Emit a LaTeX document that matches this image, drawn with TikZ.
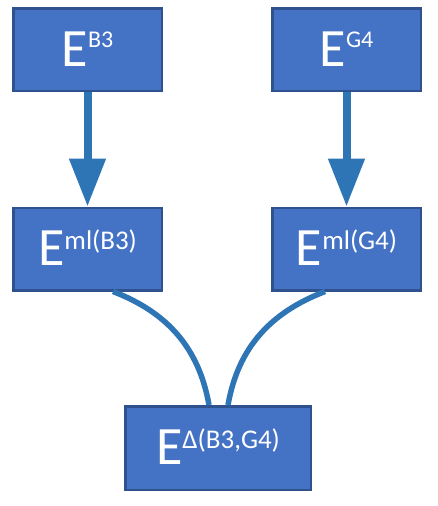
\documentclass[tikz,border=0pt]{standalone}
\usepackage{fontspec}
\setmainfont{Carlito}
\usepackage{xcolor}
\usepackage{tikz}
\usetikzlibrary{arrows.meta,calc}

\definecolor{boxfill}{HTML}{4472C4}
\definecolor{boxedge}{HTML}{2F528F}
\definecolor{flowblue}{HTML}{2E75B6}
\newcommand{\Eup}[3]{E\raisebox{#2}{\fontsize{#1}{#1}\selectfont #3}}

\begin{document}
\begin{tikzpicture}[
  x=1pt, y=1pt,
  blk/.style={draw=boxedge, fill=boxfill, line width=2.5pt, inner sep=0pt,
    minimum width=148.5pt, minimum height=82.5pt, text=white,
    font=\fontsize{54}{54}\selectfont, text height=33pt, text depth=0pt},
  flow/.style={-{Triangle[length=48pt,width=35pt]}, draw=flowblue, line width=8pt},
  merge/.style={draw=flowblue, line width=5.5pt},
]
\useasboundingbox (0,0) rectangle (438,-506);
% source boxes
\node[blk] (b3) at (87.5,-49.5) {\Eup{24pt}{19pt}{B3}};
\node[blk] (g4) at (346.5,-49.5) {\Eup{24pt}{19pt}{G4}};
% ml boxes
\node[blk] (mlb3) at (87.5,-249) {\Eup{27pt}{16pt}{ml(B3)}};
\node[blk] (mlg4) at (346.5,-249) {\Eup{27pt}{16pt}{ml(G4)}};
% difference
\node[blk, minimum width=185.5pt, minimum height=83.5pt] (delta) at (218,-448)
  {\Eup{27pt}{16pt}{Δ(B3,G4)}};
% connectors
\draw[flow] (b3) -- (mlb3);
\draw[flow] (g4) -- (mlg4);
\draw[merge] ($(mlb3.south)+(25.5,0)$) to[out=-21,in=100] ($(delta.north)+(-9,0)$);
\draw[merge] ($(mlg4.south)+(-21.5,0)$) to[out=-159,in=80] ($(delta.north)+(10,0)$);
\end{tikzpicture}
\end{document}
